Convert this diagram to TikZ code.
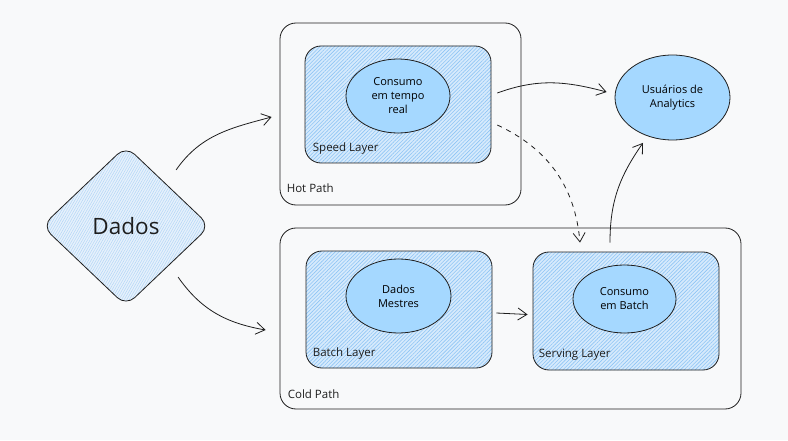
\documentclass[tikz,border=0pt]{standalone}
\usepackage{fontspec}
\setmainfont{Open Sans}
\usetikzlibrary{shapes.geometric,arrows.meta,patterns.meta}
\definecolor{bgc}{HTML}{F8F9FA}
\definecolor{ink}{HTML}{1E1E1E}
\definecolor{ellc}{HTML}{A5D8FF}
\definecolor{hatchc}{HTML}{8EC5F5}
\definecolor{hatchbg}{HTML}{D6EAFC}
\definecolor{diabg}{HTML}{E6F1FC}
\definecolor{diahatch}{HTML}{B3D6F6}
\tikzset{
  x=1pt,y=1pt,
  pathbox/.style={draw=ink, line width=0.8pt, rounded corners=16pt, inner sep=0pt},
  layerbox/.style={draw=ink, line width=0.8pt, rounded corners=16pt, inner sep=0pt,
    preaction={fill=hatchbg},
    pattern={Lines[angle=45,distance=2.6pt,line width=0.6pt]}, pattern color=hatchc},
  ell/.style={ellipse, draw=ink, line width=0.8pt, fill=ellc, inner sep=0pt, align=center,
    font=\fontsize{11}{14}\selectfont},
  lbl/.style={anchor=base west, inner sep=0pt, font=\fontsize{11.5}{13}\selectfont, text=ink},
  arr/.style={draw=ink, line width=0.8pt, -{Straight Barb[length=9pt,width=12pt]}},
}
\begin{document}
\begin{tikzpicture}
\fill[bgc] (0,0) rectangle (788,440);
\useasboundingbox (0,0) rectangle (788,440);

% Dados diamond
\node[diamond, draw=ink, line width=0.8pt, rounded corners=12pt, inner sep=0pt,
  minimum width=168pt, minimum height=160pt,
  preaction={fill=diabg},
  pattern={Lines[angle=60,distance=2.2pt,line width=0.5pt]}, pattern color=diahatch]
  (dados) at (126,214) {};
\node[font=\fontsize{22.5}{26}\selectfont, text=ink] (dadoslbl) at (126,214) {Dados};

% Hot path
\node[pathbox, minimum width=241pt, minimum height=182pt] (hot) at (400.5,326) {};
\node[layerbox, minimum width=186pt, minimum height=117pt] (speed) at (398,335.5) {};
\node[ell, minimum width=104pt, minimum height=74pt] (tempo) at (398,344) {Consumo\\em tempo\\real};
\node[lbl] (speedlbl) at ([xshift=8,yshift=12]speed.south west) {Speed Layer};
\node[lbl] (hotlbl) at ([xshift=7,yshift=13]hot.south west) {Hot Path};

% Cold path
\node[pathbox, minimum width=461pt, minimum height=181pt] (cold) at (510.5,121.5) {};
\node[layerbox, minimum width=186pt, minimum height=117pt] (batch) at (399,130.5) {};
\node[ell, minimum width=105pt, minimum height=74pt] (mestres) at (398.5,144) {Dados\\Mestres};
\node[layerbox, minimum width=186pt, minimum height=118pt] (serving) at (626,129) {};
\node[ell, minimum width=103pt, minimum height=68pt] (cbatch) at (624.5,141) {Consumo\\em Batch};
\node[lbl] (batchlbl) at ([xshift=7,yshift=12]batch.south west) {Batch Layer};
\node[lbl] (servinglbl) at ([xshift=6,yshift=13]serving.south west) {Serving Layer};
\node[lbl] (coldlbl) at ([xshift=8,yshift=11]cold.south west) {Cold Path};

% Users
\node[ell, minimum width=115pt, minimum height=85pt] (users) at (672.5,342.5) {Usuários de\\Analytics};

% Connectors
\draw[arr] ([xshift=8,yshift=16]dados.north east) to[out=55,in=195] ([xshift=-8,yshift=-3]hot.west);
\draw[arr] ([xshift=10,yshift=-11]dados.south east) to[out=-55,in=170] ([xshift=-14,yshift=-11.5]cold.west);
\draw[arr] ([xshift=6,yshift=11.5]speed.east) to[out=20,in=165] ([xshift=-8,yshift=5.5]users.west);
\draw[arr, dashed, dash pattern=on 5pt off 5pt] ([xshift=6,yshift=-20.5]speed.east) to[out=-25,in=95] ([xshift=-46,yshift=9]serving.north);
\draw[arr] ([xshift=-16,yshift=9]serving.north) to[out=90,in=235] ([xshift=-29.5,yshift=-2.5]users.south);
\draw[arr] ([xshift=4,yshift=-3.5]batch.east) -- ([xshift=-5,yshift=-3.5]serving.west);
\end{tikzpicture}
\end{document}
